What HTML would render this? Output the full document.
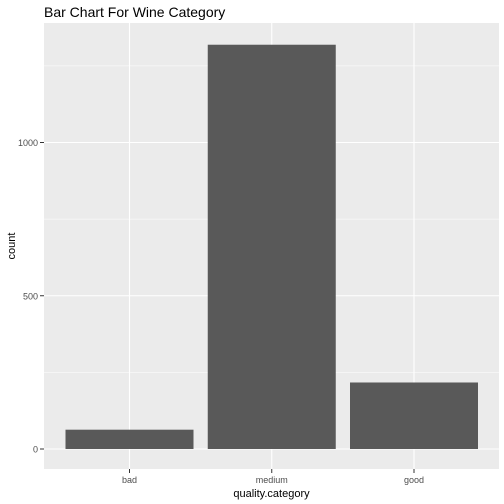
<!DOCTYPE html>
<html><head><meta charset="utf-8"><style>body{margin:0;background:#fff}svg{display:block;font-family:"Liberation Sans",Arial,sans-serif}</style></head>
<body>
<svg id="chart" width="504" height="504">
<text x="44" y="17" font-size="14" fill="#000">Bar Chart For Wine Category</text>
<rect x="44" y="23" width="455" height="446" fill="#ebebeb"/>
<g id="grid"></g><g id="bars"></g><g id="axes"></g>
<text x="271.5" y="497" font-size="11" text-anchor="middle" fill="#000">quality.category</text>
<text transform="translate(15,246) rotate(-90)" font-size="11" text-anchor="middle" fill="#000">count</text>
</svg>
<script>
const categories=["bad","medium","good"];
const counts=[63,1319,217];
const yTicks=[0,500,1000];
const yMinor=[250,750,1250];
const NS="http://www.w3.org/2000/svg";
const y=v=>449-v*0.3065;
const x=i=>129.5+i*142.25;
function mk(tag,attrs,parent){const e=document.createElementNS(NS,tag);for(const k in attrs)e.setAttribute(k,attrs[k]);document.getElementById(parent).appendChild(e);return e;}
yMinor.forEach(v=>{const l=mk('line',{x1:44,x2:499,y1:y(v),y2:y(v),stroke:'#fff','stroke-width':0.6},'grid');

});
yTicks.forEach(v=>{const l=mk('line',{x1:44,x2:499,y1:y(v),y2:y(v),stroke:'#fff','stroke-width':1.1},'grid');


const t=mk('line',{x1:40,x2:44,y1:y(v),y2:y(v),stroke:'#333','stroke-width':1},'axes');


const tx=mk('text',{x:38,y:y(v)+3.5,'font-size':9,'text-anchor':'end',fill:'#4d4d4d'},'axes');tx.textContent=v;

});
categories.forEach((c,i)=>{const g=mk('line',{x1:x(i),x2:x(i),y1:23,y2:469,stroke:'#fff','stroke-width':1.1},'grid');


const b=mk('rect',{x:x(i)-64,width:128,y:y(counts[i]),height:y(0)-y(counts[i]),fill:'#595959'},'bars');


const t=mk('line',{x1:x(i),x2:x(i),y1:469,y2:473,stroke:'#333','stroke-width':1},'axes');


const tx=mk('text',{x:x(i),y:483,'font-size':9,'text-anchor':'middle',fill:'#4d4d4d'},'axes');tx.textContent=c;

});
</script>
</body></html>
